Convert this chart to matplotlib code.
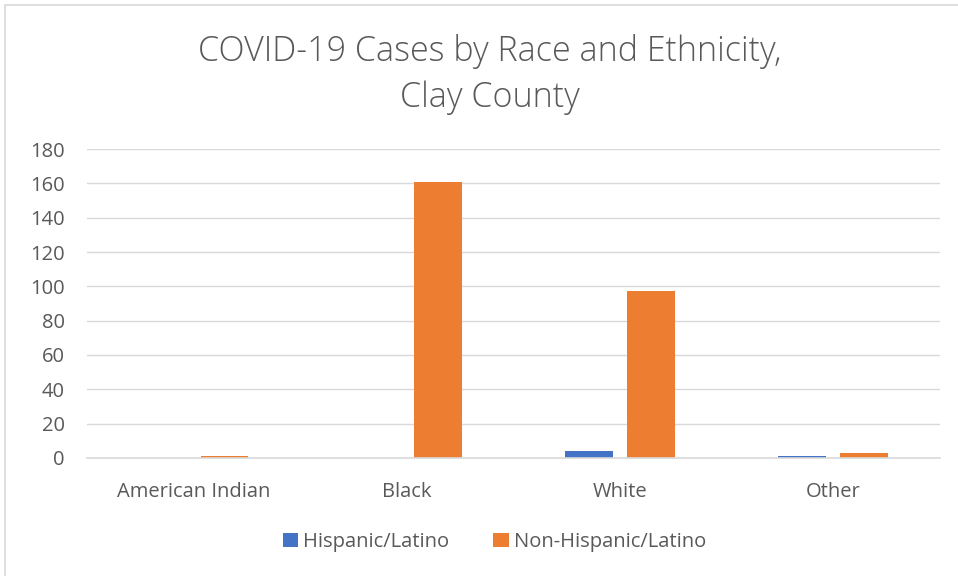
import numpy as np
import matplotlib.pyplot as plt
from matplotlib.patches import Rectangle

categories = ['American Indian', 'Black', 'White', 'Other']
hispanic = [0, 0, 4, 1]
non_hispanic = [1, 161, 97, 3]
yticks = [0, 20, 40, 60, 80, 100, 120, 140, 160, 180]

plt.rcParams['font.family'] = ['Open Sans', 'DejaVu Sans']
txt = '#595959'

fig = plt.figure(figsize=(9.58, 5.76), dpi=100)
ax = fig.add_axes([0.0908, 0.2049, 0.8902, 0.5364])

# chart border
fig.patches.append(Rectangle((5 / 958, -0.01), 1.0, 1.0 - 5 / 576 + 0.01,
                             transform=fig.transFigure, fill=False,
                             edgecolor='#d9d9d9', linewidth=1.2))

x = np.arange(len(categories))
w = 0.225
ax.bar(x - 0.145, hispanic, w, color='#4472c4', label='Hispanic/Latino')
ax.bar(x + 0.145, non_hispanic, w, color='#ed7d31', label='Non-Hispanic/Latino')

ax.set_xlim(-0.5, 3.5)
ax.set_ylim(0, 180)
ax.set_yticks(yticks)
ax.set_xticks(x)
ax.set_xticklabels(categories)
ax.tick_params(axis='both', length=0, labelsize=14.5, labelcolor=txt)
ax.tick_params(axis='x', pad=17)
ax.tick_params(axis='y', pad=16)
ax.grid(axis='y', color='#d9d9d9', linewidth=1)
ax.set_axisbelow(True)
for s in ['top', 'right', 'left']:
    ax.spines[s].set_visible(False)
ax.spines['bottom'].set_color('#d9d9d9')
ax.spines['bottom'].set_linewidth(1.2)

fig.text(0.511, 0.911, 'COVID-19 Cases by Race and Ethnicity,', ha='center', va='center',
         fontsize=24.5, color=txt, fontweight='light')
fig.text(0.511, 0.831, 'Clay County', ha='center', va='center',
         fontsize=24.5, color=txt, fontweight='light')

fig.legend(loc='center', bbox_to_anchor=(0.516, 0.059), ncol=2, frameon=False,
           fontsize=14.5, labelcolor=txt, handlelength=0.75, handleheight=0.75,
           handletextpad=0.25, columnspacing=2.2)

plt.savefig('out.png', dpi=100)
